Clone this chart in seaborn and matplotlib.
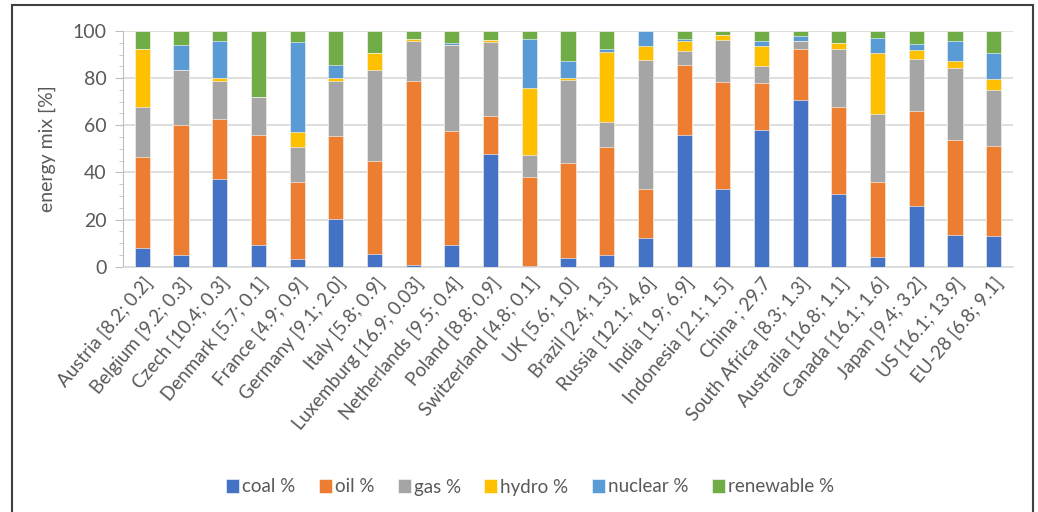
import numpy as np
import pandas as pd
import matplotlib
matplotlib.use("Agg")
import matplotlib.pyplot as plt
from matplotlib.patches import Rectangle
import seaborn as sns

countries = ["Austria [8.2; 0.2]", "Belgium [9.2; 0.3]", "Czech [10.4; 0.3]", "Denmark [5.7; 0.1]",
             "France [4.9; 0.9]", "Germany [9.1; 2.0]", "Italy [5.8; 0.9]", "Luxemburg [16.9; 0.03]",
             "Netherlands [9.5; 0.4]", "Poland [8.8; 0.9]", "Switzerland [4.8; 0.1]", "UK [5.6; 1.0]",
             "Brazil [2.4; 1.3]", "Russia [12.1; 4.6]", "India [1.9; 6.9]", "Indonesia [2.1; 1.5]",
             "China ; 29.7", "South Africa [8.3; 1.3]", "Australia [16.8; 1.1]", "Canada [16.1; 1.6]",
             "Japan [9.4; 3.2]", "US [16.1; 13.9]", "EU-28 [6.8; 9.1]"]

coal = [8.0, 5.0, 37.2, 9.2, 3.3, 20.2, 5.4, 0.7, 9.3, 48.0, 0.3, 3.8,
        5.1, 12.0, 55.7, 33.1, 58.1, 70.7, 30.7, 4.0, 25.9, 13.6, 12.9]
oil = [38.4, 55.0, 25.3, 46.8, 32.5, 35.2, 39.6, 77.9, 48.4, 16.1, 37.7, 40.0,
       45.8, 21.1, 29.7, 45.1, 19.7, 21.7, 36.9, 32.1, 40.0, 40.0, 38.4]
gas = [21.4, 23.5, 16.4, 15.9, 15.0, 23.5, 38.5, 17.3, 36.5, 31.4, 9.2, 35.4,
       10.3, 54.5, 6.3, 18.1, 7.5, 3.2, 24.8, 28.8, 22.1, 30.8, 23.5]
hydro = [24.4, 0.0, 1.2, 0.0, 6.3, 1.2, 7.0, 0.7, 0.0, 0.5, 28.6, 0.9,
         29.7, 6.0, 4.1, 2.0, 8.5, 0.0, 2.6, 25.8, 4.1, 2.7, 4.7]
nuclear = [0.0, 10.4, 15.8, 0.0, 38.4, 5.3, 0.0, 0.0, 0.8, 0.0, 20.8, 7.3,
           1.3, 6.4, 0.8, 0.0, 1.8, 2.1, 0.0, 6.5, 2.5, 8.5, 11.0]
renewable = [7.8, 6.1, 4.1, 28.1, 4.5, 14.6, 9.5, 3.4, 5.0, 4.0, 3.4, 12.6,
             7.8, 0.0, 3.4, 1.7, 4.4, 2.3, 5.0, 2.8, 5.4, 4.4, 9.5]

sources = ["coal %", "oil %", "gas %", "hydro %", "nuclear %", "renewable %"]
colors = ["#4472C4", "#ED7D31", "#A5A5A5", "#FFC000", "#5B9BD5", "#70AD47"]

df = pd.DataFrame({"country": countries, "coal %": coal, "oil %": oil, "gas %": gas,
                   "hydro %": hydro, "nuclear %": nuclear, "renewable %": renewable})
cum = df[sources].cumsum(axis=1)

sns.set_style("white")
plt.rcParams["font.family"] = ["Lato", "DejaVu Sans"]

fig = plt.figure(figsize=(10.38, 5.12), dpi=100)
ax = fig.add_axes([123 / 1038, 1 - 266.7 / 512, 890 / 1038, 235.7 / 512])

# stacked bars: draw cumulative totals from the top down so each covers the next
for src, col in reversed(list(zip(sources, colors))):
    sns.barplot(x=df["country"], y=cum[src], color=col, saturation=1, width=0.39, ax=ax,
                edgecolor="white", linewidth=0.4, label=src, zorder=3)

ax.set_ylim(0, 100)
ax.set_xlim(-0.5, len(countries) - 0.5)
ax.set_yticks(np.arange(0, 101, 20))
ax.set_yticks(np.arange(0, 101, 5), minor=True)
ax.yaxis.grid(True, color="#D9D9D9", linewidth=1.2, zorder=0)
ax.set_axisbelow(True)
for s in ["top", "right"]:
    ax.spines[s].set_visible(False)
ax.spines["left"].set_color("#BFBFBF")
ax.spines["bottom"].set_color("#D9D9D9")
ax.spines["bottom"].set_linewidth(1.2)
ax.tick_params(axis="y", which="major", left=True, length=6, color="#BFBFBF",
               labelsize=14, labelcolor="#595959", pad=6)
ax.tick_params(axis="y", which="minor", left=True, length=3, color="#BFBFBF")
ax.tick_params(axis="x", bottom=False, labelsize=13.5, labelcolor="#595959", pad=2)
ax.set_xticks(range(len(countries)))
ax.set_xticklabels(countries, rotation=50, ha="right", rotation_mode="anchor")
ax.set_xlabel("")
ax.set_ylabel("energy mix [%]", fontsize=14, color="#595959", labelpad=12)
if ax.get_legend() is not None:
    ax.get_legend().remove()

handles, labels = ax.get_legend_handles_labels()
order = [labels.index(s) for s in sources]
fig.legend([handles[i] for i in order], sources, loc="center", bbox_to_anchor=(530 / 1038, 1 - 487 / 512),
           ncol=6, frameon=False, fontsize=13.5, handlelength=0.7, handleheight=0.7,
           handletextpad=0.15, columnspacing=1.25, labelcolor="#595959")

fig.patches.append(Rectangle((12 / 1038, -0.01), 1021 / 1038, 1 - 5 / 512 + 0.01,
                             transform=fig.transFigure, fill=False,
                             edgecolor="#404040", linewidth=1.5))

fig.savefig("out.png", dpi=100)
